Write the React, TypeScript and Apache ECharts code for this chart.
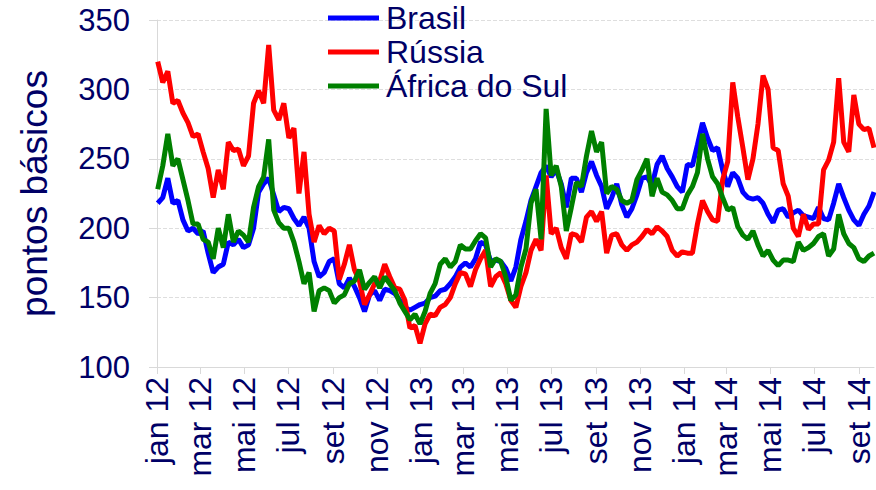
import React, { useEffect, useRef } from "react";
import * as echarts from "echarts";

const START_UTC = Date.UTC(2012, 0, 1);
const DAY_MS = 86400000;
const DAY_COUNT = 996;
const FIRST_POINT_DAY = 1;
const POINT_STEP_DAYS = 7;

const monthLabels = ["jan", "fev", "mar", "abr", "mai", "jun", "jul", "ago", "set", "out", "nov", "dez"];
const seriesNames = ["Brasil", "Rússia", "África do Sul"];
const seriesColors = ["#0000FF", "#FF0000", "#008000"];
const yTicks = [100, 150, 200, 250, 300, 350];
const yAxisName = "pontos básicos";

const brasil = [
  218, 222, 236, 218, 220, 206, 198, 200, 196, 198, 182, 168, 172, 174, 190, 188, 192, 186, 188, 200, 226,
  232, 236, 224, 212, 215, 214, 207, 202, 208, 200, 176, 165, 168, 176, 178, 160, 157, 164, 158, 150,
  140, 152, 155, 148, 156, 155, 153, 148, 143, 141, 143, 145, 146, 150, 151, 155, 156, 160, 165, 172, 175,
  172, 178, 190, 188, 176, 177, 176, 171, 162, 172, 192, 205, 220, 230, 240, 245, 237, 242, 232, 215, 236,
  236, 226, 240, 248, 238, 230, 214, 222, 232, 217, 208, 214, 224, 236, 237, 231, 246, 252, 243, 237,
  230, 226, 246, 245, 260, 276, 265, 256, 258, 242, 230, 240, 236, 226, 222, 221, 222, 218, 210, 204,
  213, 214, 208, 211, 213, 209, 208, 207, 215, 207, 206, 218, 232, 222, 213, 206, 202, 210, 216, 226,
];

const russia = [
  320, 305, 313, 290, 292, 283, 276, 266, 268, 255, 243, 222, 242, 228, 262, 256, 257, 245, 252, 290, 299,
  290, 332, 285, 278, 290, 265, 272, 225, 255, 210, 190, 202, 196, 200, 198, 163, 174, 188, 170, 162,
  145, 152, 160, 162, 174, 165, 157, 156, 148, 128, 130, 117, 131, 138, 137, 143, 145, 150, 160, 168, 167,
  158, 170, 178, 184, 158, 165, 168, 160, 148, 143, 158, 168, 184, 192, 184, 238, 196, 200, 186, 178, 196,
  195, 190, 208, 212, 205, 212, 182, 195, 196, 188, 184, 188, 190, 194, 199, 196, 201, 198, 194, 184,
  180, 183, 182, 182, 203, 220, 212, 206, 205, 235, 248, 305, 280, 258, 235, 250, 275, 310, 300, 258,
  256, 232, 223, 200, 194, 210, 199, 203, 203, 242, 249, 262, 308, 262, 255, 296, 275, 271, 272, 258,
];

const africa = [
  228, 245, 268, 245, 250, 235, 220, 203, 203, 192, 190, 178, 200, 186, 210, 190, 198, 195, 190, 215, 230,
  237, 264, 213, 204, 200, 200, 190, 176, 160, 168, 140, 155, 157, 155, 146, 150, 152, 160, 162, 170,
  156, 161, 165, 157, 165, 160, 155, 146, 140, 134, 138, 131, 140, 153, 160, 174, 178, 172, 176, 188, 185,
  185, 191, 196, 193, 172, 178, 176, 165, 148, 152, 172, 185, 218, 228, 192, 286, 238, 245, 230, 198, 215,
  233, 230, 252, 270, 255, 262, 225, 230, 228, 220, 218, 220, 235, 242, 250, 223, 236, 226, 224, 220,
  214, 214, 224, 230, 240, 268, 250, 237, 232, 222, 213, 215, 201, 195, 192, 198, 188, 180, 184, 177,
  173, 177, 177, 176, 190, 184, 186, 189, 194, 196, 180, 185, 210, 196, 189, 186, 178, 176, 180, 182,
];

const seriesValues = [brasil, russia, africa];

const dayCategories: string[] = [];
for (let d = 0; d < DAY_COUNT; d++) {
  dayCategories.push(new Date(START_UTC + d * DAY_MS).toISOString().slice(0, 10));
}

const isLabelDay = (index: number) => {
  const dt = new Date(START_UTC + index * DAY_MS);
  return dt.getUTCDate() === 1 && dt.getUTCMonth() % 2 === 0;
};

const TEXT_COLOR = "#000066";
const FONT = "Liberation Sans, Arial, sans-serif";

export default function App() {
  const ref = useRef<HTMLDivElement>(null);
  useEffect(() => {
    if (!ref.current) return;
    const chart = echarts.init(ref.current, null, { renderer: "svg" });
    chart.setOption({
      animation: false,
      backgroundColor: "#ffffff",
      textStyle: { fontFamily: FONT },
      grid: { left: 157, right: 2, top: 20, bottom: 123, containLabel: false },
      legend: {
        orient: "vertical",
        left: 328,
        top: 1,
        padding: 0,
        itemGap: 0,
        itemWidth: 51,
        itemHeight: 5,
        icon: "rect",
        data: seriesNames,
        textStyle: { color: TEXT_COLOR, fontSize: 32, lineHeight: 34, fontFamily: FONT, padding: [0, 0, 0, 2] },
      },
      xAxis: {
        type: "category",
        data: dayCategories,
        boundaryGap: false,
        axisLine: { show: true, lineStyle: { color: "#d9d9d9", width: 1 } },
        axisTick: {
          show: true,
          interval: (index: number) => isLabelDay(index),
          length: 7,
          lineStyle: { color: "#d9d9d9" },
        },
        splitLine: { show: false },
        axisLabel: {
          interval: (index: number) => isLabelDay(index),
          rotate: 90,
          margin: 10,
          color: TEXT_COLOR,
          fontSize: 32,
          fontFamily: FONT,
          formatter: (value: string) => {
            const m = parseInt(value.slice(5, 7), 10) - 1;
            return `${monthLabels[m]} ${value.slice(2, 4)}`;
          },
        },
      },
      yAxis: {
        type: "value",
        min: yTicks[0],
        max: yTicks[yTicks.length - 1],
        interval: 50,
        name: yAxisName,
        nameLocation: "middle",
        nameGap: 104,
        nameTextStyle: { color: TEXT_COLOR, fontSize: 37, fontFamily: FONT },
        axisLine: { show: true, lineStyle: { color: "#d9d9d9" } },
        axisTick: { show: true, length: 8, lineStyle: { color: "#d9d9d9" } },
        splitLine: { show: true, lineStyle: { color: "#dedede", type: "dashed" } },
        axisLabel: { color: TEXT_COLOR, fontSize: 31, margin: 27, fontFamily: FONT },
      },
      series: seriesNames.map((name, s) => ({
        name,
        type: "line",
        showSymbol: false,
        symbol: "none",
        color: seriesColors[s],
        lineStyle: { width: 5, color: seriesColors[s] },
        data: seriesValues[s].map((v, i) => [FIRST_POINT_DAY + i * POINT_STEP_DAYS, v]),
      })),
    });
    return () => chart.dispose();
  }, []);
  return <div ref={ref} style={{ width: 876, height: 490, position: "absolute", left: 0, top: 0 }} />;
}
